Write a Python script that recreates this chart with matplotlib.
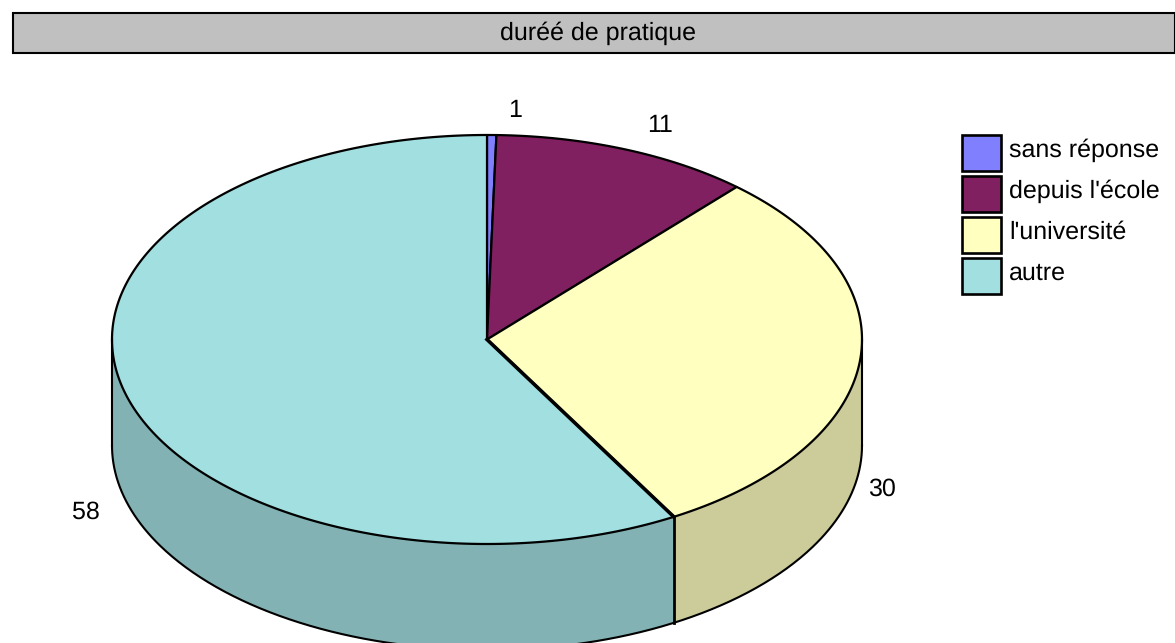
import numpy as np
import matplotlib
matplotlib.use("Agg")
import matplotlib.pyplot as plt
from matplotlib.patches import Polygon, Rectangle

plt.rcParams['font.family'] = ['Liberation Sans', 'DejaVu Sans']
plt.rcParams['text.hinting'] = 'none'
plt.rcParams['text.hinting_factor'] = 1

title = "duréé de pratique"
categories = ["sans réponse", "depuis l'école", "l'université", "autre"]
value_labels = ["1", "11", "30", "58"]
# slice shares as measured on the picture, labels above are rounded in the source
shares = [0.4, 11.2, 30.1, 58.3]
colors = ["#8080ff", "#802060", "#ffffc0", "#a2dfe0"]
side_colors = ["#6666cc", "#661a4d", "#cccb9a", "#82b2b3"]

cx, cy = 487, 339.5
rx, ry = 375, 204.5
depth = 106

fig = plt.figure(figsize=(11.75, 6.43), dpi=100)
ax = fig.add_axes([0, 0, 1, 1])
ax.set_xlim(0, 1175)
ax.set_ylim(643, 0)
ax.axis("off")


def rim(t):
    # t in degrees, clockwise from the top of the ellipse
    t = np.radians(t)
    return cx + rx * np.sin(t), cy - ry * np.cos(t)


# title bar
ax.add_patch(Rectangle((13, 13), 1162, 40, fc="#c0c0c0", ec="black", lw=1.5, clip_on=False))
ax.text(598.5, 33, title, ha="center", va="center", fontsize=17.9)

edges = np.concatenate([[0], np.cumsum(shares)]) * 3.6

# sides first, only the front half of the rim is visible
for i in range(4):
    a, b = max(edges[i], 90), min(edges[i + 1], 270)
    if a >= b:
        continue
    t = np.linspace(a, b, 200)
    x, y = rim(t)
    pts = np.column_stack([np.r_[x, x[::-1]], np.r_[y, y[::-1] + depth]])
    ax.add_patch(Polygon(pts, fc=side_colors[i], ec="none"))

t = np.linspace(90, 270, 400)
x, y = rim(t)
ax.plot(x, y + depth, color="black", lw=1.5)
ax.plot([cx - rx, cx - rx], [cy, cy + depth], color="black", lw=1.5)
ax.plot([cx + rx, cx + rx], [cy, cy + depth], color="black", lw=1.5)
x, y = rim(edges[3])
ax.plot([x, x], [y, y + depth], color="black", lw=2)

# top faces
for i in range(4):
    t = np.linspace(edges[i], edges[i + 1], 300)
    x, y = rim(t)
    pts = np.column_stack([np.r_[cx, x], np.r_[cy, y]])
    ax.add_patch(Polygon(pts, fc=colors[i], ec="black", lw=1.6, joinstyle="round"))

# the yellow / cyan border is drawn twice in the source, so it looks heavier
x, y = rim(edges[3])
ax.plot([cx, x], [cy, y], color="black", lw=2.6)

# value labels
label_x = [515, 660, 882, 86]
label_y = [111, 126, 489, 512]
for s, lx, ly in zip(value_labels, label_x, label_y):
    ax.text(lx, ly, s, ha="center", va="center", fontsize=17.9)

# legend
legend_y = [135, 176, 217, 258]
for name, col, ly in zip(categories, colors, legend_y):
    ax.add_patch(Rectangle((962, ly), 39, 36, fc=col, ec="black", lw=1.9))
    ax.text(1009, ly + 15.5, name, ha="left", va="center", fontsize=17.8)

fig.savefig("out.png", dpi=100)
